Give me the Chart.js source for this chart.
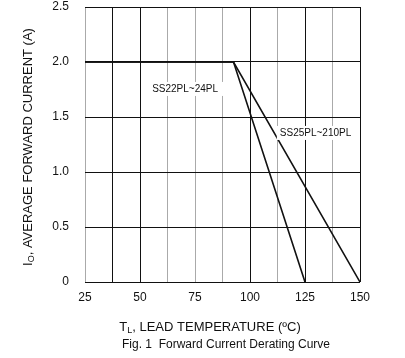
<!DOCTYPE html>
<html>
<head>
<meta charset="utf-8">
<script src="https://cdn.jsdelivr.net/npm/chart.js@4.4.0/dist/chart.umd.min.js"></script>
<style>
  html, body { margin: 0; padding: 0; background: #fff; }
  #wrap { width: 405px; height: 358px; }
</style>
</head>
<body>
<div id="wrap"><canvas id="derating" width="405" height="358"></canvas></div>
<script>
// values
const temps22 = [25, 92.5, 125];
const amps22 = [2.0, 2.0, 0];
const temps25 = [25, 92.5, 150];
const amps25 = [2.0, 2.0, 0];
const seriesNames = ['SS22PL~24PL', 'SS25PL~210PL'];
const xLabelTicks = [25, 50, 75, 100, 125, 150];
const yTickLabels = ['0', '0.5', '1.0', '1.5', '2.0', '2.5'];

const FONT = 'Liberation Sans, Arial, sans-serif';
const lightLines = [25, 62.5, 75, 87.5, 112.5, 137.5];

function toPoints(xs, ys) {
    return xs.map((x, i) => ({ x: x, y: ys[i] }));
}

// draws text where some parts are subscripts, centred on x
function drawSubText(ctx, parts, x, y, size) {
    const subSize = Math.round(size * 0.72);
    let total = 0;
    parts.forEach(p => {
        ctx.font = (p.sub ? subSize : size) + 'px ' + FONT;
        total += ctx.measureText(p.t).width;
    });
    let cx = x - total / 2;
    parts.forEach(p => {
        ctx.font = (p.sub ? subSize : size) + 'px ' + FONT;
        ctx.fillText(p.t, cx, p.sub ? y + size * 0.3 : y);
        cx += ctx.measureText(p.t).width;
    });
}

const annotations = {
    id: 'annotations',
    afterDatasetsDraw(chart) {
        const ctx = chart.ctx;
        const xs = chart.scales.x, ys = chart.scales.y;
        // series labels with white boxes (placed in data units)
        const spots = [[70.5, 1.755], [129.8, 1.355]];
        ctx.save();
        ctx.font = '10px ' + FONT;
        ctx.textBaseline = 'middle';
        ctx.textAlign = 'center';
        seriesNames.forEach((name, i) => {
            const px = xs.getPixelForValue(spots[i][0]);
            const py = ys.getPixelForValue(spots[i][1]);
            const w = ctx.measureText(name).width;
            ctx.fillStyle = '#fff';
            ctx.fillRect(px - w / 2 - 3, py - 7, w + 8, 14);
            ctx.fillStyle = '#111';
            ctx.fillText(name, px, py + 0.5);
        });
        ctx.restore();
    },
    afterDraw(chart) {
        const ctx = chart.ctx;
        ctx.save();
        ctx.fillStyle = '#111';
        ctx.textAlign = 'left';
        ctx.textBaseline = 'middle';
        drawSubText(ctx, [{ t: 'T' }, { t: 'L', sub: true }, { t: ', LEAD TEMPERATURE (ºC)' }], 210, 327, 13);
        ctx.font = '12px ' + FONT;
        ctx.textAlign = 'center';
        ctx.fillText('Fig. 1  Forward Current Derating Curve', 226, 345);
        ctx.translate(28, 147);
        ctx.rotate(-Math.PI / 2);
        ctx.textAlign = 'left';
        drawSubText(ctx, [{ t: 'I' }, { t: 'O', sub: true }, { t: ', AVERAGE FORWARD CURRENT (A)' }], 0, 0, 13);
        ctx.restore();
    }
};

new Chart(document.getElementById('derating'), {
    type: 'line',
    data: {
        datasets: [
            {
                label: seriesNames[0],
                data: toPoints(temps22, amps22),
                borderColor: '#111',
                borderWidth: 1.6,
                pointRadius: 0,
                tension: 0
            },
            {
                label: seriesNames[1],
                data: toPoints(temps25, amps25),
                borderColor: '#111',
                borderWidth: 1.6,
                pointRadius: 0,
                tension: 0
            }
        ]
    },
    options: {
        responsive: false,
        animation: false,
        layout: { padding: { top: 7, right: 45, left: 0, bottom: 0 } },
        plugins: {
            legend: { display: false },
            tooltip: { enabled: false }
        },
        scales: {
            x: {
                type: 'linear',
                min: 25,
                max: 150,
                afterFit: s => { s.height = 76; },
                border: { display: false },
                grid: {
                    drawTicks: false,
                    color: c => (c.tick && lightLines.includes(c.tick.value)) ? '#aaa' : '#111',
                    lineWidth: 1
                },
                ticks: {
                    stepSize: 12.5,
                    autoSkip: false,
                    maxRotation: 0,
                    padding: 8,
                    color: '#111',
                    font: { family: FONT, size: 12 },
                    callback: v => xLabelTicks.includes(v) ? String(v) : ''
                }
            },
            y: {
                min: 0,
                max: 2.5,
                afterFit: s => { s.width = 85; s.paddingTop = 0; s.paddingBottom = 0; },
                border: { display: false },
                grid: { drawTicks: false, color: '#111', lineWidth: 1 },
                ticks: {
                    stepSize: 0.5,
                    padding: 16,
                    color: '#111',
                    font: { family: FONT, size: 12 },
                    callback: (v, i) => yTickLabels[i]
                }
            }
        }
    },
    plugins: [annotations]
});
</script>
</body>
</html>
